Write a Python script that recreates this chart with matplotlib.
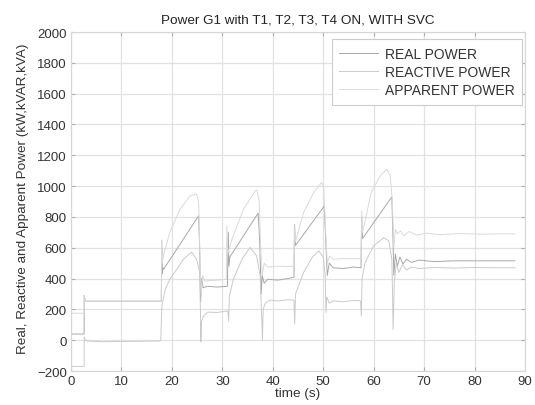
import matplotlib
matplotlib.use("Agg")
import matplotlib.pyplot as plt

plt.rcParams['font.family'] = ['Liberation Sans', 'DejaVu Sans']

# Real power (kW)
t_real = [0, 2.6, 2.62, 2.8, 3.0, 17.9, 18.0, 18.1, 18.2, 18.35, 25.3, 25.5, 25.7,
          25.9, 26.2, 27, 29, 31, 31.2, 31.3, 31.5, 37.1, 37.4, 37.7, 37.9, 38.3,
          39, 41, 43, 44.2, 44.3, 44.5, 50.2, 50.5, 50.8, 51.2, 52, 54, 56, 57.5,
          57.6, 57.8, 63.6, 63.8, 64.0, 64.3, 64.7, 65.2, 65.8, 66.5, 67.5, 69,
          72, 76, 80, 84, 88]
p_real = [40, 40, 290, 260, 253, 253, 600, 430, 470, 460, 807, 600, 250,
          400, 340, 350, 345, 350, 700, 480, 540, 825, 650, 300, 420, 370,
          395, 390, 400, 410, 750, 615, 870, 650, 420, 500, 470, 465, 475, 470,
          800, 660, 930, 700, 420, 560, 480, 540, 495, 525, 505, 520,
          510, 515, 515, 515, 515]

# Reactive power (kVAR)
t_reactive = [0, 2.6, 2.62, 2.9, 3.2, 6, 17.6, 17.8, 18.0, 18.7, 19.6, 21, 22.3,
              23.9, 24.9, 25.5, 25.65, 25.75, 25.85, 26.3, 27.2, 29, 31.1, 31.25,
              31.4, 32.2, 33.9, 35.5, 36.8, 37.5, 37.8, 37.95, 38.1, 38.5, 39.5,
              41, 43, 44.2, 44.35, 44.5, 46.1, 47.8, 49.1, 50.0, 50.4, 50.55, 50.7,
              51.2, 52, 54, 56, 57.4, 57.55, 57.7, 58.3, 60, 62, 63, 63.6, 63.75,
              63.85, 64.1, 64.5, 65, 65.7, 66.5, 67.5, 69, 72, 76, 80, 84, 88]
q_reactive = [-170, -170, 20, 0, -5, -10, -5, 0, 222, 331, 396, 461, 526,
              571, 526, 441, 200, -10, 120, 158, 182, 180, 190, 125,
              288, 396, 526, 602, 547, 417, 150, 0, 200, 240, 260,
              255, 262, 260, 104, 300, 439, 537, 580, 540, 417, 180, 280,
              240, 255, 250, 258, 255, 158, 400, 504, 612, 666, 644, 526, 300,
              71, 380, 500, 440, 490, 455, 475, 465, 472, 468, 472, 470, 470]

# Apparent power (kVA)
t_apparent = [0, 2.6, 2.62, 2.8, 3.0, 17.9, 18.0, 18.1, 18.3, 19.6, 21.6, 23.6,
              24.9, 25.3, 25.6, 25.8, 26.1, 26.5, 29, 30.8, 30.9, 31.1, 31.9,
              34.2, 36.5, 36.9, 37.3, 37.6, 37.9, 38.3, 39, 41, 43, 44.2, 44.35,
              44.5, 46.1, 48.1, 49.7, 50.1, 50.5, 50.8, 51.3, 52, 54, 56, 57.5,
              57.65, 57.8, 59.5, 61.3, 62.6, 63.3, 63.7, 64.0, 64.3, 64.7, 65.3,
              66, 67, 68.5, 70.5, 73, 77, 81, 85, 88]
s_apparent = [175, 175, 290, 260, 253, 253, 650, 500, 547, 700, 850, 936,
              950, 900, 500, 300, 420, 385, 390, 395, 742, 560, 655,
              850, 969, 975, 900, 600, 420, 500, 475, 480, 478, 480, 742,
              640, 829, 958, 1023, 990, 700, 500, 545, 525, 530, 528, 530,
              839, 700, 958, 1066, 1110, 1066, 900, 600, 720, 690, 709,
              677, 705, 682, 695, 685, 692, 688, 690, 690]

x_ticks = list(range(0, 91, 10))
y_ticks = list(range(-200, 2001, 200))

fig = plt.figure(figsize=(5.35, 4.06), dpi=100)
ax = fig.add_axes([0.1327, 0.0837, 0.8486, 0.835])

ax.plot(t_real, p_real, color='#a8a8a8', lw=0.7, label='REAL POWER')
ax.plot(t_reactive, q_reactive, color='#cacaca', lw=0.7, label='REACTIVE POWER')
ax.plot(t_apparent, s_apparent, color='#dadada', lw=0.7, label='APPARENT POWER')

ax.set_xlim(0, 90)
ax.set_ylim(-200, 2000)
ax.set_xticks(x_ticks)
ax.set_yticks(y_ticks)
ax.grid(True, color='#e2e2e2', lw=0.9)
ax.set_axisbelow(True)
ax.tick_params(direction='in', length=3, color='#b0b0b0', labelsize=9.5,
               labelcolor='#333333', top=True, right=True, pad=3)
for s in ax.spines.values():
    s.set_color('#d6d6d6')
    s.set_linewidth(0.8)

ax.set_title('Power G1 with T1, T2, T3, T4 ON, WITH SVC', fontsize=9.7,
             color='#222222', pad=7)
ax.set_xlabel('time (s)', fontsize=9.7, color='#333333', labelpad=0)
ax.set_ylabel('Real, Reactive and Apparent Power (kW,kVAR,kVA)', fontsize=9.7,
              color='#333333')
ax.yaxis.set_label_coords(-0.092, 0.51)

leg = ax.legend(loc='upper right', bbox_to_anchor=(0.9934, 0.979),
                borderaxespad=0, fontsize=10, handlelength=2.8,
                handletextpad=0.45, labelspacing=0.3, borderpad=0.55,
                fancybox=False, framealpha=1, edgecolor='#cccccc')
for txt in leg.get_texts():
    txt.set_color('#333333')
leg.get_frame().set_linewidth(0.8)

fig.savefig('out.png', dpi=100)
